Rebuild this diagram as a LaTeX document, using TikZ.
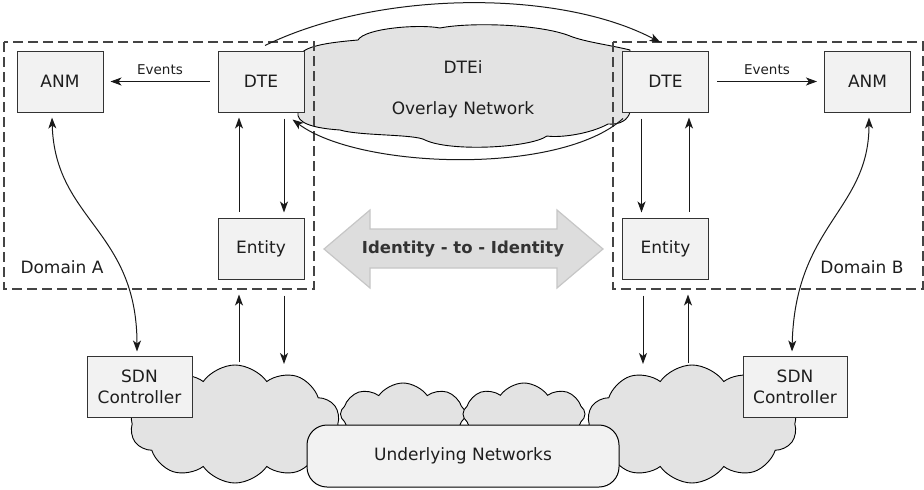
\documentclass[tikz,border=0pt]{standalone}
\usepackage{fontspec}
\setmainfont{DejaVu Sans}
\usetikzlibrary{arrows.meta,shapes.symbols,calc}
\definecolor{boxfill}{HTML}{F2F2F2}
\definecolor{cloudfill}{HTML}{E3E3E3}
\definecolor{dashcol}{HTML}{444444}
\definecolor{arrfill}{HTML}{DDDDDD}
\definecolor{arrline}{HTML}{C6C6C6}
\definecolor{txt}{HTML}{1E1E1E}
\begin{document}
\begin{tikzpicture}[x=1pt,y=-1pt,
  box/.style={draw=black!80, line width=1pt, fill=boxfill, minimum width=86pt,
    minimum height=61pt, inner sep=0pt, text=txt,
    font=\fontsize{17}{21}\selectfont, align=center},
  cloudy/.style={cloud, draw=black, line width=0.9pt, fill=cloudfill, inner sep=0pt,
    cloud ignores aspect},
  cloudpath/.style={draw=black, line width=0.9pt, fill=cloudfill},
  arr/.style={-{Stealth[length=11pt,width=8pt,inset=3pt]}, line width=1pt, draw=black!90},
  darr/.style={{Stealth[length=11pt,width=8pt,inset=3pt]}-{Stealth[length=11pt,width=8pt,inset=3pt]}, line width=1pt, draw=black!90},
  dashbox/.style={draw=dashcol, line width=1.1pt, dash pattern=on 10pt off 5pt},
  lbl/.style={text=txt, font=\fontsize{17}{21}\selectfont, inner sep=0pt},
  evt/.style={text=txt, font=\fontsize{13.5}{16}\selectfont, inner sep=0pt}]
\useasboundingbox (0,0) rectangle (924,490);

% overlay cloud (flat, wide)
\draw[cloudpath] (300,55) .. controls (305,45) and (335,42) .. (358,40)
  .. controls (365,28) and (420,24) .. (440,28)
  .. controls (470,22) and (540,24) .. (570,36)
  .. controls (585,42) and (610,45) .. (630,50)
  -- (630,112)
  .. controls (628,120) and (620,125) .. (608,124)
  .. controls (590,134) and (560,138) .. (547,136)
  .. controls (530,148) and (450,152) .. (425,140)
  .. controls (415,134) and (360,136) .. (340,130)
  .. controls (310,128) and (296,122) .. (298,112)
  -- cycle;
\node[lbl] (dtei) at (463,67) {DTEi};
\node[lbl] (ovlt) at (463,110) {Overlay Network};

% domains
\draw[dashbox] (4,42) rectangle (314,289);
\draw[dashbox] (613,42) rectangle (923,289);
\node[lbl] (doma) at (62,267) {Domain A};
\node[lbl] (domb) at (862,267) {Domain B};

% lower clouds
\node[cloudy, cloud puffs=10, cloud puff arc=110, minimum width=210pt, minimum height=118pt] (cla) at (235,424) {};
\node[cloudy, cloud puffs=10, cloud puff arc=110, minimum width=210pt, minimum height=118pt] (clb) at (692,424) {};
\node[cloudy, cloud puffs=8, cloud puff arc=110, minimum width=125pt, minimum height=62pt] (csa) at (403,414) {};
\node[cloudy, cloud puffs=8, cloud puff arc=110, minimum width=122pt, minimum height=62pt] (csb) at (524,414) {};

% nodes
\node[box] (anmA) at (60,81.5) {ANM};
\node[box] (dteA) at (261,81.5) {DTE};
\node[box] (entA) at (261,248.5) {Entity};
\node[box] (dteB) at (665.5,81.5) {DTE};
\node[box] (anmB) at (867.5,81.5) {ANM};
\node[box] (entB) at (665.5,248.5) {Entity};
\node[box, minimum width=105pt] (sdnA) at (139.5,386.5) {SDN\\Controller};
\node[box, minimum width=104pt] (sdnB) at (795,386.5) {SDN\\Controller};
\node[box, draw=black, minimum width=312pt, minimum height=62pt, rounded corners=20pt] (under) at (463,456) {Underlying Networks};

% identity arrow
\draw[fill=arrfill, draw=arrline, line width=1.2pt]
  (324,249) -- (370,210) -- (370,229) -- (557,229) -- (557,210) -- (603,249)
  -- (557,288) -- (557,268) -- (370,268) -- (370,288) -- cycle;
\node[text=black!80, font=\bfseries\fontsize{16.5}{20}\selectfont, inner sep=0pt] (i2i) at (463,249) {Identity - to - Identity};

% top and bottom arcs between DTEs
\draw[arr] ([xshift=4pt,yshift=5pt]dteA.north) .. controls +(115,-56) and +(-100,-53) .. ([xshift=-5pt,yshift=8pt]dteB.north);
\draw[arr] ([xshift=1pt,yshift=-6pt]dteB.south west) .. controls +(-63,57) and +(67,50) .. ([xshift=-12pt,yshift=-7pt]dteA.south east);

% events
\draw[arr] ([xshift=-8pt]dteA.west) -- node[evt, above=6pt] (evA) {Events} ([xshift=7pt]anmA.east);
\draw[arr] ([xshift=8pt]dteB.east) -- node[evt, above=6pt] (evB) {Events} ([xshift=-7pt]anmB.west);

% DTE <-> Entity
\draw[arr] ([xshift=-22pt,yshift=6pt]entA.north) -- ([xshift=-22pt,yshift=-5pt]dteA.south);
\draw[arr] ([xshift=23pt,yshift=-6pt]dteA.south) -- ([xshift=23pt,yshift=5pt]entA.north);
\draw[arr] ([xshift=-24pt,yshift=-6pt]dteB.south) -- ([xshift=-24pt,yshift=5pt]entB.north);
\draw[arr] ([xshift=23.5pt,yshift=6pt]entB.north) -- ([xshift=23.5pt,yshift=-5pt]dteB.south);

% Entity <-> clouds
\coordinate (ca1) at (239,362);
\coordinate (ca2) at (284,364);
\coordinate (cb1) at (643,364);
\coordinate (cb2) at (688,363);
\draw[arr] (ca1) -- ([yshift=-15pt]entA.south -| ca1);
\draw[arr] ([yshift=-16pt]entA.south -| ca2) -- (ca2);
\draw[arr] ([yshift=-16pt]entB.south -| cb1) -- (cb1);
\draw[arr] (cb2) -- ([yshift=-15pt]entB.south -| cb2);

% ANM <-> SDN
\draw[darr] ([xshift=-8pt,yshift=-5pt]anmA.south) .. controls +(3,103) and +(0,-122) .. ([xshift=-2.5pt,yshift=4pt]sdnA.north);
\draw[darr] ([xshift=1.5pt,yshift=-5pt]anmB.south) .. controls +(0,93) and +(3,-127) .. ([xshift=-3pt,yshift=4pt]sdnB.north);
\end{tikzpicture}
\end{document}
